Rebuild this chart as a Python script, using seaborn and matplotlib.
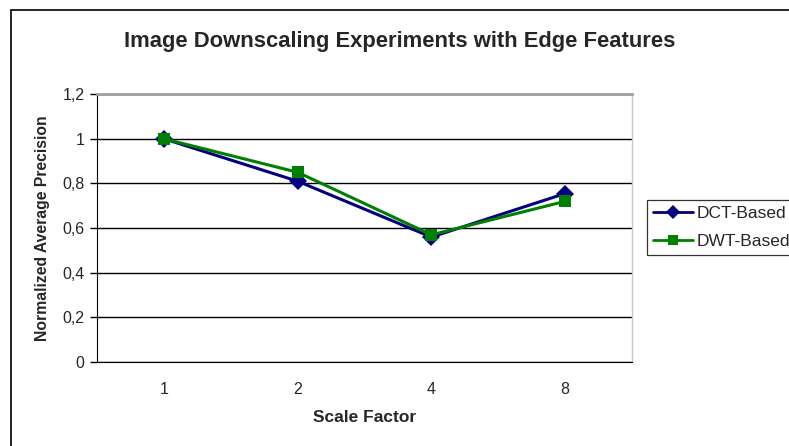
import matplotlib
matplotlib.use('Agg')
import matplotlib.pyplot as plt
import seaborn as sns
import pandas as pd
from matplotlib.ticker import FixedLocator, FuncFormatter
from matplotlib.lines import Line2D

# Данные
scale_factors = ["1", "2", "4", "8"]
dct_values = [1.0, 0.81, 0.56, 0.755]
dwt_values = [1.0, 0.85, 0.57, 0.72]

df = pd.DataFrame({
    "pos": list(range(len(scale_factors))) * 2,
    "value": dct_values + dwt_values,
    "method": ["DCT-Based"] * 4 + ["DWT-Based"] * 4,
})

sns.set_style("white")
plt.rcParams['font.family'] = ['Liberation Sans', 'DejaVu Sans']

fig = plt.figure(figsize=(7.89, 4.46), dpi=100)
ax = fig.add_axes([0.123, 0.188, 0.678, 0.601])

sns.lineplot(data=df, x="pos", y="value", hue="method", style="method",
             palette={"DCT-Based": "#000080", "DWT-Based": "#008000"},
             markers={"DCT-Based": "D", "DWT-Based": "s"}, dashes=False,
             linewidth=2.2, markersize=9, markeredgewidth=0, ax=ax, legend=False)

ax.set_xlim(-0.5, 3.5)
ax.set_ylim(0, 1.2)
ax.set_yticks([0, 0.2, 0.4, 0.6, 0.8, 1.0, 1.2])
ax.yaxis.set_major_formatter(FuncFormatter(lambda v, p: f"{v:g}".replace(".", ",")))
ax.set_xticks(range(4))
ax.set_xticklabels(scale_factors)
ax.xaxis.set_minor_locator(FixedLocator([-0.5, 0.5, 1.5, 2.5, 3.5]))
ax.tick_params(axis='x', which='major', length=0, labelsize=11.5, pad=14)
ax.tick_params(axis='x', which='minor', length=4, width=1, color='black', direction='out')
ax.tick_params(axis='y', length=5, width=1, color='black', direction='out',
               labelsize=11.5, left=True, pad=4)
ax.grid(axis='y', color='black', linewidth=1)
ax.set_axisbelow(True)
ax.spines['left'].set_color('black')
ax.spines['bottom'].set_color('black')
ax.spines['top'].set_color('#a0a0a0')
ax.spines['top'].set_linewidth(2)
ax.spines['right'].set_color('#c8c8c8')
ax.spines['right'].set_linewidth(1)

ax.set_xlabel("Scale Factor", fontsize=12.5, fontweight='bold', labelpad=10)
ax.set_ylabel("Normalized Average Precision", fontsize=11.3, fontweight='bold', labelpad=9)
fig.text(0.507, 0.908, "Image Downscaling Experiments with Edge Features",
         ha='center', va='center', fontsize=15.8, fontweight='bold')

# Легенда
handles = [Line2D([], [], color="#000080", marker="D", lw=2, markersize=7, markeredgewidth=0),
           Line2D([], [], color="#008000", marker="s", lw=2, markersize=7, markeredgewidth=0)]
leg = fig.legend(handles, ["DCT-Based", "DWT-Based"], loc='upper left',
                 bbox_to_anchor=(0.82, 0.552), frameon=True, fancybox=False,
                 edgecolor='black', fontsize=12.5, handlelength=2.3,
                 handletextpad=0.2, borderpad=0.35, labelspacing=0.75,
                 borderaxespad=0)
leg.get_frame().set_linewidth(0.9)

# Рамка вокруг рисунка (видны только левая и верхняя стороны)
fig.add_artist(Line2D([11 / 789, 11 / 789], [0, 1 - 10 / 446], transform=fig.transFigure,
                      color='black', linewidth=1.2))
fig.add_artist(Line2D([11 / 789, 1], [1 - 10 / 446, 1 - 10 / 446], transform=fig.transFigure,
                      color='black', linewidth=1.2))

fig.savefig("out.png", dpi=100)
